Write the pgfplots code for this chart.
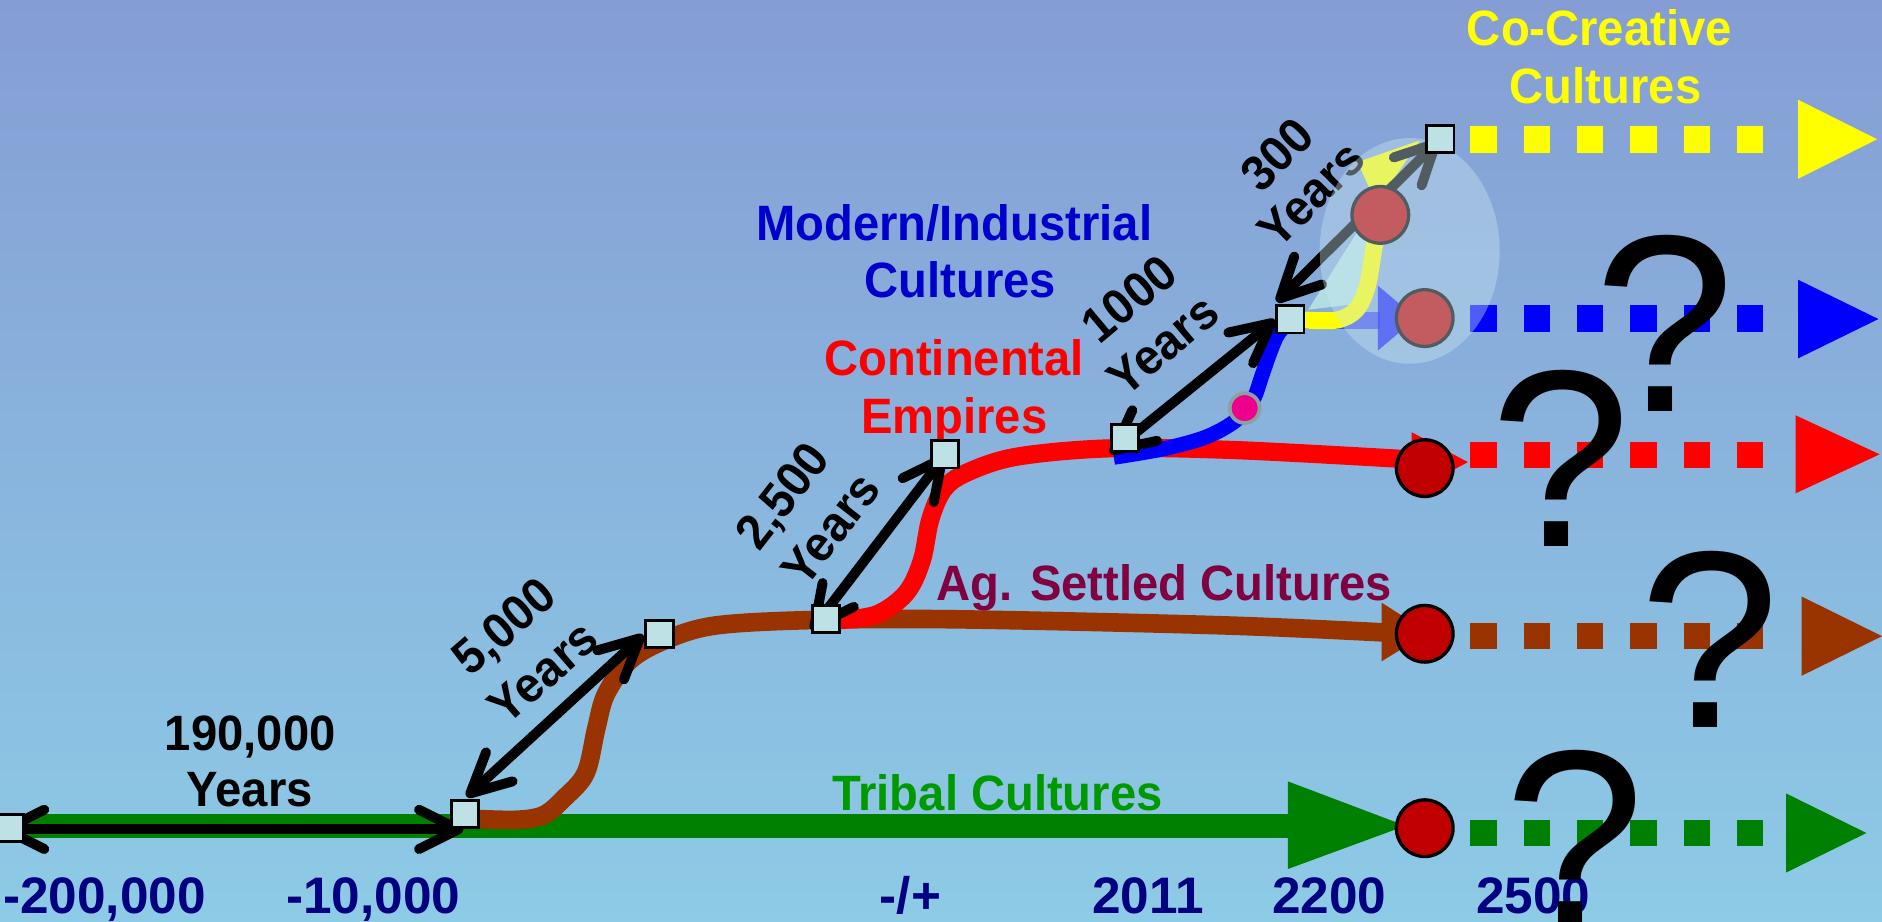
\documentclass[border=0pt]{standalone}
\usepackage{pgfplots}
\pgfplotsset{compat=1.18}
\usepackage{fontspec}
\setmainfont{Liberation Sans}
\newfontfamily\lab[FakeStretch=0.95]{Liberation Sans}
\usetikzlibrary{arrows.meta}
\definecolor{bgtop}{RGB}{133,157,212}
\definecolor{bgbot}{RGB}{141,203,230}
\definecolor{cgreen}{RGB}{0,128,0}
\definecolor{cbrown}{RGB}{153,51,0}
\definecolor{cred}{RGB}{255,0,0}
\definecolor{cblue}{RGB}{0,0,255}
\definecolor{cyell}{RGB}{255,255,0}
\definecolor{dred}{RGB}{192,0,0}
\definecolor{sqfill}{RGB}{189,225,228}
\definecolor{navy}{RGB}{0,0,128}
\definecolor{maroon}{RGB}{128,0,64}
\definecolor{tribal}{RGB}{0,153,0}
\definecolor{modern}{RGB}{0,0,204}
\definecolor{conec}{RGB}{178,222,226}
\definecolor{ellc}{RGB}{200,230,240}
\definecolor{grayo}{RGB}{140,160,160}
\tikzset{>={Straight Barb[length=9.5pt,width=9.5pt,round]},
  dbl/.style={black,line width=2.4pt,line cap=round,<->},
  lbl/.style={inner sep=0pt,anchor=base,font=\fontsize{12}{14}\selectfont\lab\bfseries},
  yrs/.style={inner sep=0pt,font=\fontsize{12}{14}\selectfont\lab\bfseries,text=black},
  qm/.style={inner sep=0pt,anchor=base,font=\fontsize{61}{70}\selectfont,text=black},
  dots/.style={line width=6.4pt,dash pattern=on 6.38pt off 6.5pt}}
\begin{document}
\begin{tikzpicture}
\begin{axis}[at={(0,0)},anchor=south west,width=454.72pt,height=222.72pt,
  scale only axis,xmin=0,xmax=1568,ymin=0,ymax=768,y dir=reverse,hide axis,clip=true]
% background
\fill[top color=bgtop,bottom color=bgbot] (axis cs:0,0) rectangle (axis cs:1568,768);
% Tribal line
\addplot[cgreen,line width=5.8pt] coordinates {(0,688) (1080,688)};
\addplot[fill=cgreen,draw=none] coordinates {(1073,651) (1073,724) (1171,688)} -- cycle;
% Ag. settled curve
\addplot[cbrown,line width=4.5pt,smooth,tension=0.55] coordinates {(390,682) (430,683) (453,679) (470,665) (488,644) (497,606) (505,578) (525,550) (555,533) (597,521) (680,516.5) (800,516) (1019,521) (1155,527)};
\addplot[fill=cbrown,draw=none] coordinates {(1151,502) (1151,551) (1190,527)} -- cycle;
% Continental curve
\addplot[cred,line width=4.4pt,smooth,tension=0.55] coordinates {(695,517) (730,512) (755,494) (768,467) (775,433) (786,408) (805,394) (847,380.5) (925,373.5) (1030,375) (1180,383)};
\addplot[fill=cred,draw=none] coordinates {(1176,360) (1176,410) (1223,385)} -- cycle;
% Modern curve
\addplot[cblue,line width=3.6pt,smooth,tension=0.55] coordinates {(928,381) (969,374) (1005,364) (1030,350) (1044,333) (1051,314) (1058,294) (1065,278) (1076,266.5)};
% dotted continuations
\addplot[cyell,dots] coordinates {(1225,116) (1469,116)};
\addplot[cblue,dots] coordinates {(1225,265.5) (1469,265.5)};
\addplot[cred,dots] coordinates {(1225,379) (1469,379)};
\addplot[cbrown,dots] coordinates {(1225,530) (1469,530)};
\addplot[cgreen,dots] coordinates {(1225,694) (1469,694)};
\addplot[fill=cyell,draw=none] coordinates {(1498,83) (1498,149) (1564,116)} -- cycle;
\addplot[fill=cblue,draw=none] coordinates {(1498,233) (1498,298.6) (1565,265.8)} -- cycle;
\addplot[fill=cred,draw=none] coordinates {(1496,346) (1496,411) (1566,378.5)} -- cycle;
\addplot[fill=cbrown,draw=none] coordinates {(1501,497) (1501,563) (1568,530)} -- cycle;
\addplot[fill=cgreen,draw=none] coordinates {(1488,661) (1488,727) (1555,694)} -- cycle;
% opaque circles
\addplot[only marks,mark=*,mark size=6.85pt,mark options={fill=dred,draw=black,line width=0.8pt}] coordinates {(1187,690) (1187,528) (1187,390)};
% blue glow arrow
\addplot[cblue,line width=4pt,opacity=0.55] coordinates {(1087,267) (1150,267)};
\addplot[fill=cblue,draw=none,opacity=0.8] coordinates {(1148,238) (1148,292) (1180,265)} -- cycle;
% circles later faded by the ellipse
\addplot[only marks,mark=*,mark size=6.85pt,mark options={fill=dred,draw=black,line width=0.8pt}] coordinates {(1187,265) (1150,179)};
% light cone
\addplot[fill=conec,draw=none] coordinates {(1090,258) (1140,252) (1158,150)} -- cycle;
% Co-creative curve
\addplot[cyell,line width=4.1pt,smooth,tension=0.55] coordinates {(1087,266.6) (1114,266.6) (1130,258) (1139,239) (1144,211) (1148.5,183) (1150,160)};
\addplot[fill=cyell,draw=none] coordinates {(1131,135) (1147,170) (1183,117)} -- cycle;
% 300 years
\addplot[dbl] coordinates {(1063.7,251.4) (1199,116.7)};
\node[yrs,rotate=45] at (axis cs:1064,128.5) {300};
\node[yrs,rotate=45] at (axis cs:1092.5,162) {Years};
% ellipse overlay
\addplot[only marks,mark=*,mark size=21.75pt,mark options={yscale=1.2533,fill=ellc,draw=ellc,draw opacity=0,line width=0pt,fill opacity=0.4}] coordinates {(1174.5,209)};
% magenta dot
\addplot[only marks,mark=*,mark size=3.6pt,mark options={fill=magenta,draw=grayo,line width=0.9pt}] coordinates {(1037,340)};
% squares
\addplot[only marks,mark=square*,mark size=3.3pt,mark options={fill=sqfill,draw=black,line width=0.7pt}] coordinates {(8.5,690) (387.5,678) (549.5,528) (688,515.5) (787.5,378.5) (937.5,365) (1075,266) (1200,116)};
% span arrows
\addplot[dbl] coordinates {(0,691) (386,691)};
\addplot[dbl] coordinates {(388.8,663.8) (536,529)};
\addplot[dbl] coordinates {(676,525) (787.4,379)};
\addplot[dbl] coordinates {(925,377.7) (1062.4,266.6)};
% span labels
\node[yrs,anchor=base] at (axis cs:208.5,625.6) {190,000};
\node[yrs,anchor=base] at (axis cs:208,672) {Years};
\node[yrs,rotate=41] at (axis cs:421.6,524) {5,000};
\node[yrs,rotate=41] at (axis cs:452.5,560) {Years};
\node[yrs,rotate=52] at (axis cs:654,414.5) {2,500};
\node[yrs,rotate=52] at (axis cs:692,440.8) {Years};
\node[yrs,rotate=40] at (axis cs:940.7,249) {1000};
\node[yrs,rotate=40] at (axis cs:969,287.5) {Years};
% culture labels
\node[lbl,text=cyell] at (axis cs:1332.5,37.5) {Co-Creative};
\node[lbl,text=cyell] at (axis cs:1337.7,86) {Cultures};
\node[lbl,text=modern] at (axis cs:795,200.5) {Modern/Industrial};
\node[lbl,text=modern] at (axis cs:800,248) {Cultures};
\node[lbl,text=cred] at (axis cs:795,313) {Continental};
\node[lbl,text=cred] at (axis cs:795,361) {Empires};
\node[lbl,text=maroon] at (axis cs:970,500) {Ag. Settled Cultures};
\node[lbl,text=tribal] at (axis cs:831,675) {Tribal Cultures};
% time axis labels
\node[lbl,text=navy,font=\fontsize{12.4}{14}\selectfont\bfseries] at (axis cs:87,761) {-200,000};
\node[lbl,text=navy,font=\fontsize{12.4}{14}\selectfont\bfseries] at (axis cs:311,761) {-10,000};
\node[lbl,text=navy,font=\fontsize{12.4}{14}\selectfont\bfseries] at (axis cs:758.5,761) {-/+};
\node[lbl,text=navy,font=\fontsize{12.4}{14}\selectfont\bfseries] at (axis cs:956.5,761) {2011};
\node[lbl,text=navy,font=\fontsize{12.4}{14}\selectfont\bfseries] at (axis cs:1107.5,761) {2200};
\node[lbl,text=navy,font=\fontsize{12.4}{14}\selectfont\bfseries] at (axis cs:1277.5,761) {2500};
% question marks
\node[qm] at (axis cs:1387,343) {?};
\node[qm] at (axis cs:1300.5,455) {?};
\node[qm] at (axis cs:1424.5,606) {?};
\node[qm] at (axis cs:1312,772) {?};
\end{axis}
\pgfresetboundingbox
\path[use as bounding box] (0,0) rectangle (454.72pt,222.72pt);
\end{tikzpicture}
\end{document}
